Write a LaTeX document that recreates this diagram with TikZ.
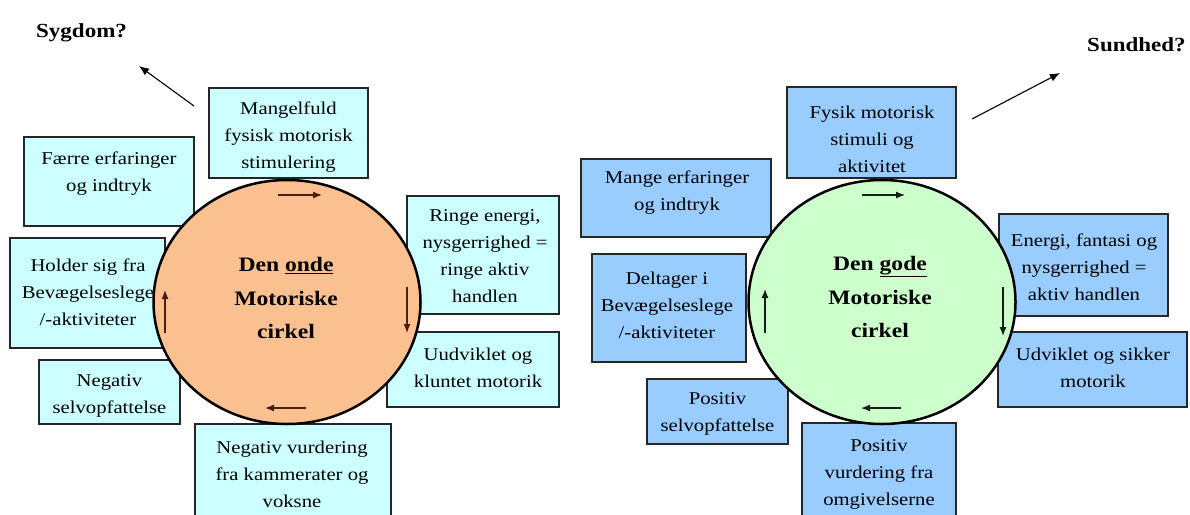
\documentclass[tikz,border=0pt]{standalone}
\usepackage{fontspec}
\setmainfont{Liberation Serif}[FakeStretch=1.15]
\usetikzlibrary{arrows.meta,shapes.geometric}
\definecolor{lbox}{HTML}{CCFFFF}
\definecolor{rbox}{HTML}{99CCFF}
\definecolor{lcirc}{HTML}{FAC090}
\definecolor{rcirc}{HTML}{CCFFCC}
\definecolor{larr}{HTML}{4A1E10}
\definecolor{rarr}{HTML}{142014}
\begin{document}
\begin{tikzpicture}[x=1pt,y=-1pt,
  box/.style={draw=black!85, line width=1.3pt, inner sep=0pt, outer sep=0pt},
  lb/.style={box, fill=lbox},
  rb/.style={box, fill=rbox},
  txt/.style={align=center, font=\fontsize{18}{27}\selectfont, inner sep=0pt},
  ctxt/.style={align=center, font=\bfseries\fontsize{20.5}{33.5}\selectfont, inner sep=0pt},
  ring/.style={draw=black, line width=2.5pt},
  cyc/.style={-{Latex[length=9pt,width=7pt]}, line width=1.2pt},
  outarrow/.style={-{Latex[length=10pt,width=8pt]}, line width=1.1pt},
  headtxt/.style={font=\bfseries\fontsize{20}{24}\selectfont, inner sep=0pt}
]
\useasboundingbox (0,0) rectangle (1190,514);
\fill[white] (0,0) rectangle (1190,514);

% ---------- left boxes ----------
\node[lb, minimum width=159pt, minimum height=90pt]  (bMang)  at (288.5,133) {};
\node[lb, minimum width=170pt, minimum height=89pt]  (bFaer)  at (109,181.5) {};
\node[lb, minimum width=155pt, minimum height=110pt] (bHold)  at (87.5,293) {};
\node[lb, minimum width=141pt, minimum height=64pt]  (bNegS)  at (109.5,392) {};
\node[lb, minimum width=196pt, minimum height=100pt] (bNegV)  at (293,474) {};
\node[lb, minimum width=152pt, minimum height=118pt] (bRing)  at (483,255) {};
\node[lb, minimum width=172pt, minimum height=75pt]  (bUudv)  at (473,369.5) {};

% ---------- right boxes ----------
\node[rb, minimum width=169pt, minimum height=91pt]  (bFys)   at (871.5,132.5) {};
\node[rb, minimum width=190pt, minimum height=78pt]  (bMange) at (676,198) {};
\node[rb, minimum width=154pt, minimum height=108pt] (bDelt)  at (669,308) {};
\node[rb, minimum width=141pt, minimum height=65pt]  (bPosS)  at (717.5,411.5) {};
\node[rb, minimum width=154pt, minimum height=101pt] (bPosV)  at (879,473.5) {};
\node[rb, minimum width=169pt, minimum height=102pt] (bEnerg) at (1083.5,265) {};
\node[rb, minimum width=189pt, minimum height=75pt]  (bUdv)   at (1092.5,369.5) {};

% ---------- circles ----------
\node[ring, fill=lcirc, ellipse, minimum width=267pt, minimum height=244pt, inner sep=0pt] (cL) at (287,302) {};
\node[ring, fill=rcirc, ellipse, minimum width=267pt, minimum height=244pt, inner sep=0pt] (cR) at (882,302) {};

% ---------- box texts ----------
\node[txt] (tMang)  at (288.5,137) {Mangelfuld\\fysisk motorisk\\stimulering};
\node[txt] (tFaer)  at (109,174) {Færre erfaringer\\og indtryk};
\node[txt] (tHold)  at (88,292) {Holder sig fra\\Bevægelseslege\\/-aktiviteter};
\node[txt] (tNegS)  at (109.5,396) {Negativ\\selvopfattelse};
\node[txt] (tNegV)  at (292,474) {Negativ vurdering\\fra kammerater og\\voksne};
\node[txt] (tRing)  at (485,256) {Ringe energi,\\nysgerrighed =\\ringe aktiv\\handlen};
\node[txt] (tUudv)  at (478,368) {Uudviklet og\\kluntet motorik};

\node[txt] (tFys)   at (872,139) {Fysik motorisk\\stimuli og\\aktivitet};
\node[txt] (tMange) at (677,193) {Mange erfaringer\\og indtryk};
\node[txt] (tDelt)  at (667,305) {Deltager i\\Bevægelseslege\\/-aktiviteter};
\node[txt] (tPosS)  at (717.5,414) {Positiv\\selvopfattelse};
\node[txt] (tPosV)  at (879,474) {Positiv\\vurdering fra\\omgivelserne};
\node[txt] (tEnerg) at (1084,267) {Energi, fantasi og\\nysgerrighed =\\aktiv handlen};
\node[txt] (tUdv)   at (1093,368) {Udviklet og sikker\\motorik};

% ---------- circle texts ----------
\node[ctxt] (tcL) at (286,298) {Den \underline{onde}\\Motoriske\\cirkel};
\node[ctxt] (tcR) at (880,297) {Den \underline{gode}\\Motoriske\\cirkel};

% ---------- cycle arrows ----------
\coordinate (lTa) at (278,195); \coordinate (lTb) at (322,195);
\coordinate (lRa) at (407,287); \coordinate (lRb) at (407,333);
\coordinate (lBa) at (306,408); \coordinate (lBb) at (265,408);
\coordinate (lLa) at (165,333); \coordinate (lLb) at (165,290);
\draw[cyc, draw=larr, fill=larr] (lTa) -- (lTb);
\draw[cyc, draw=larr, fill=larr] (lRa) -- (lRb);
\draw[cyc, draw=larr, fill=larr] (lBa) -- (lBb);
\draw[cyc, draw=larr, fill=larr] (lLa) -- (lLb);

\coordinate (rTa) at (862,195); \coordinate (rTb) at (905,195);
\coordinate (rRa) at (1003,287); \coordinate (rRb) at (1003,336);
\coordinate (rBa) at (901,408); \coordinate (rBb) at (861,408);
\coordinate (rLa) at (765,333); \coordinate (rLb) at (765,289);
\draw[cyc, draw=rarr] (rTa) -- (rTb);
\draw[cyc, draw=rarr] (rRa) -- (rRb);
\draw[cyc, draw=rarr] (rBa) -- (rBb);
\draw[cyc, draw=rarr] (rLa) -- (rLb);

% ---------- outcome labels ----------
\node[headtxt, anchor=base west] (hSyg) at (36,37) {Sygdom?};
\node[headtxt, anchor=base west] (hSun) at (1087,51) {Sundhed?};
\coordinate (sygA) at (194,106); \coordinate (sygB) at (139,66);
\coordinate (sunA) at (972,119); \coordinate (sunB) at (1060,73);
\draw[outarrow] (sygA) -- (sygB);
\draw[outarrow] (sunA) -- (sunB);
\end{tikzpicture}
\end{document}
